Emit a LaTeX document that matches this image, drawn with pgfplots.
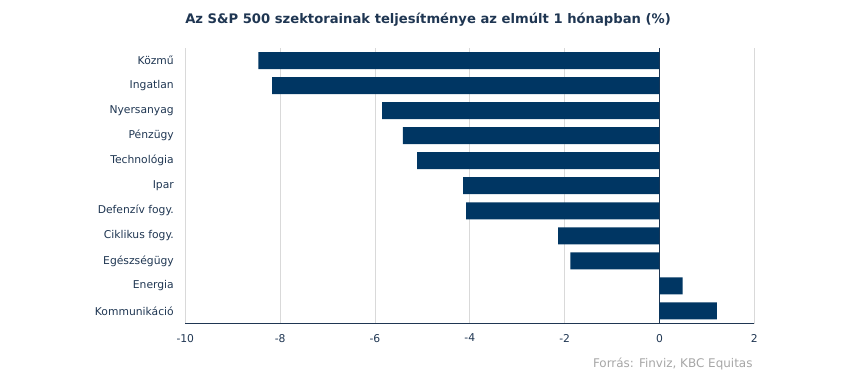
\documentclass[border=0pt]{standalone}
\usepackage{pgfplots}
\pgfplotsset{compat=1.18}
\usepackage{fontspec}
\setmainfont{DejaVu Sans}
\definecolor{barc}{HTML}{003663}
\definecolor{txt}{HTML}{1F3652}
\definecolor{gridc}{HTML}{D9D9D9}
\definecolor{src}{HTML}{A6A6A6}
\begin{document}
\begin{tikzpicture}[x=1bp,y=1bp]
\path[use as bounding box] (0,0) rectangle (850,377);
\begin{axis}[
  at={(185.3bp,53.5bp)}, anchor=south west,
  scale only axis, width=569bp, height=275.5bp,
  xbar, bar width=17bp,
  xmin=-10, xmax=2, ymin=-0.5, ymax=10.5,
  xtick={-10,-8,...,2},
  ytick={0,...,10},
  yticklabels={Kommunikáció,Energia,Egészségügy,Ciklikus fogy.,Defenzív fogy.,Ipar,Technológia,Pénzügy,Nyersanyag,Ingatlan,Közmű},
  /pgf/number format/assume math mode=true,
  tick label style={font=\fontsize{10.8}{12}\selectfont, text=txt},
  xticklabel style={yshift=-7bp},
  yticklabel style={xshift=-8bp},
  major tick length=0pt,
  xmajorgrids, grid style={gridc, line width=0.8bp},
  axis x line*=bottom, axis y line*=left,
  y axis line style={draw=none},
  x axis line style={txt, line width=1bp, -},
  extra x ticks={0}, extra x tick labels={},
  extra x tick style={grid style={txt, line width=1bp}},
  clip=false,
]
\addplot[fill=barc, draw=none] coordinates {
(1.21,0) (0.49,1) (-1.88,2) (-2.14,3) (-4.08,4) (-4.14,5) (-5.11,6) (-5.41,7) (-5.85,8) (-8.17,9) (-8.46,10)};
\end{axis}
\node[font=\bfseries\fontsize{13.2}{15}\selectfont, text=txt] at (428,357) {Az S\&P 500 szektorainak teljesítménye az elmúlt 1 hónapban (\%)};
\node[font=\fontsize{12}{13}\selectfont, text=src, anchor=east] at (756,13) {Forrás: Finviz, KBC Equitas};
\end{tikzpicture}
\end{document}
